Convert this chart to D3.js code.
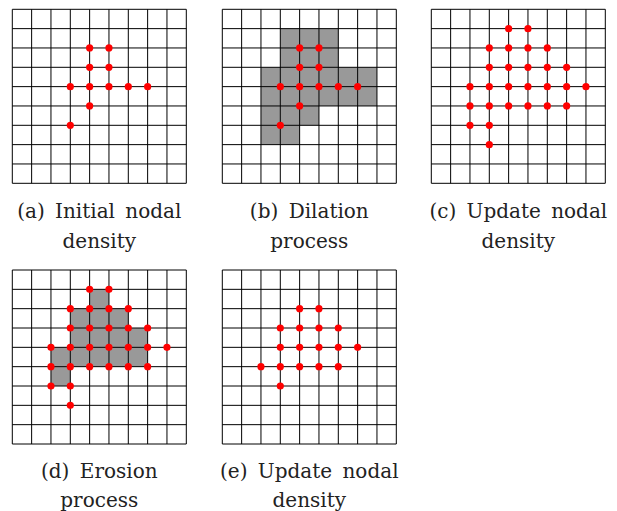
<!DOCTYPE html>
<html><head><meta charset="utf-8">
<script src="https://cdn.jsdelivr.net/npm/d3@7"></script>
<style>html,body{margin:0;padding:0;background:#fff;}svg{display:block;}</style>
</head><body>
<svg id="chart" width="617" height="511"></svg>
<script>
// ---- data ----
const gridCount = 9;
const labelsLine1 = ["(a) Initial nodal", "(b) Dilation", "(c) Update nodal", "(d) Erosion", "(e) Update nodal"];
const labelsLine2 = ["density", "process", "density", "process", "density"];
// nodes as [column, row] grid-node indices
const nodesA = [[4,2],[5,2],[4,3],[5,3],[3,4],[4,4],[5,4],[6,4],[7,4],[4,5],[3,6]];
const nodesB = [[4,2],[5,2],[4,3],[5,3],[3,4],[4,4],[5,4],[6,4],[7,4],[4,5],[3,6]];
const nodesC = [[4,1],[5,1],[3,2],[4,2],[5,2],[6,2],[3,3],[4,3],[5,3],[6,3],[7,3],
                [2,4],[3,4],[4,4],[5,4],[6,4],[7,4],[8,4],[2,5],[3,5],[4,5],[5,5],[6,5],[7,5],
                [2,6],[3,6],[3,7]];
const nodesD = [[4,1],[5,1],[3,2],[4,2],[5,2],[6,2],[3,3],[4,3],[5,3],[6,3],[7,3],
                [2,4],[3,4],[4,4],[5,4],[6,4],[7,4],[8,4],[2,5],[3,5],[4,5],[5,5],[6,5],[7,5],
                [2,6],[3,6],[3,7]];
const nodesE = [[4,2],[5,2],[3,3],[4,3],[5,3],[6,3],[3,4],[4,4],[5,4],[6,4],[7,4],
                [2,5],[3,5],[4,5],[5,5],[6,5],[3,6]];
// shaded cells as [column, row] cell indices
const cellsA = [];
const cellsB = [[3,1],[4,1],[5,1],[3,2],[4,2],[5,2],
                [2,3],[3,3],[4,3],[5,3],[6,3],[7,3],
                [2,4],[3,4],[4,4],[5,4],[6,4],[7,4],
                [2,5],[3,5],[4,5],[2,6],[3,6]];
const cellsC = [];
const cellsD = [[4,1],[3,2],[4,2],[5,2],[3,3],[4,3],[5,3],[6,3],
                [2,4],[3,4],[4,4],[5,4],[6,4],[2,5]];
const cellsE = [];

// ---- layout ----
const panelSize = 174;
const panelX = [12.3, 222.3, 431.3, 12.3, 222.3];
const panelY = [9.3, 9.3, 9.3, 270, 270];
const label1Y = [218, 218, 218, 478, 478];
const label2Y = [248, 248, 248, 507, 507];

const nodes = [nodesA, nodesB, nodesC, nodesD, nodesE];
const cells = [cellsA, cellsB, cellsC, cellsD, cellsE];

const svg = d3.select("#chart");
const s = d3.scaleLinear().domain([0, gridCount]).range([0, panelSize]);
const ticks = d3.range(0, gridCount + 1);

nodes.forEach((nd, p) => {
  const g = svg.append("g").attr("transform", `translate(${panelX[p]},${panelY[p]})`);
  g.selectAll("rect.cell").data(cells[p]).join("rect")
    .attr("class", "cell")
    .attr("x", d => s(d[0])).attr("y", d => s(d[1]))
    .attr("width", s(1) - s(0)).attr("height", s(1) - s(0))
    .attr("fill", "#999999");
  g.selectAll("line.v").data(ticks).join("line")
    .attr("class", "v")
    .attr("x1", d => s(d)).attr("x2", d => s(d))
    .attr("y1", s(0)).attr("y2", s(gridCount))
    .attr("stroke", "#000").attr("stroke-width", 1);
  g.selectAll("line.h").data(ticks).join("line")
    .attr("class", "h")
    .attr("y1", d => s(d)).attr("y2", d => s(d))
    .attr("x1", s(0)).attr("x2", s(gridCount))
    .attr("stroke", "#000").attr("stroke-width", 1);
  g.selectAll("circle").data(nd).join("circle")
    .attr("cx", d => s(d[0])).attr("cy", d => s(d[1]))
    .attr("r", 3.6).attr("fill", "#ff0000");
  const cx = panelSize / 2;
  g.append("text").attr("x", cx).attr("y", label1Y[p] - panelY[p])
    .attr("text-anchor", "middle")
    .attr("font-family", "'DejaVu Serif', serif").attr("font-size", 20)
    .attr("fill", "#222").attr("word-spacing", 4)
    .text(labelsLine1[p]);
  g.append("text").attr("x", cx).attr("y", label2Y[p] - panelY[p])
    .attr("text-anchor", "middle")
    .attr("font-family", "'DejaVu Serif', serif").attr("font-size", 20)
    .attr("fill", "#222")
    .text(labelsLine2[p]);
});
</script>
</body></html>
